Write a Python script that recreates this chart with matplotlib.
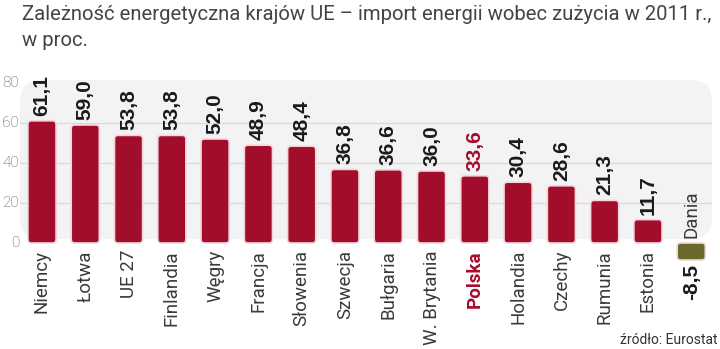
import matplotlib.pyplot as plt
from matplotlib.patches import FancyBboxPatch

kraje = ['Niemcy', 'Łotwa', 'UE 27', 'Finlandia', 'Węgry', 'Francja', 'Słowenia',
         'Szwecja', 'Bułgaria', 'W. Brytania', 'Polska', 'Holandia', 'Czechy',
         'Rumunia', 'Estonia', 'Dania']
import_energii = [61.1, 59.0, 53.8, 53.8, 52.0, 48.9, 48.4, 36.8, 36.6, 36.0,
                  33.6, 30.4, 28.6, 21.3, 11.7, -8.5]
y_ticks = [0, 20, 40, 60, 80]

RED = '#a30d2c'
OLIVE = '#6b682c'
GRAY = '#3a3a3a'

fig = plt.figure(figsize=(7.2, 3.49), dpi=100)
ax = fig.add_axes([20 / 720, 84 / 349, 692 / 720, 185 / 349])
x0, x1 = -0.508, 15.48
y0, y1 = -11, 81.5
ax.set_xlim(x0, x1)
ax.set_ylim(y0, y1)
ax.axis('off')
# data units per pixel, so rounded corners stay round
aspect = ((y1 - y0) / 185) / ((x1 - x0) / 692)

# rounded grey panel behind the bars
panel = FancyBboxPatch((0, 0.14), 1, 0.86, transform=ax.transAxes,
                       boxstyle='round,pad=0,rounding_size=0.03',
                       mutation_aspect=692 / 185,
                       facecolor='#f3f3f3', edgecolor='none', zorder=0)
ax.add_patch(panel)
for t in y_ticks[1:-1]:
    ax.plot([x0, x1], [t, t], color='#dadada', lw=0.9, zorder=1)

for t in y_ticks:
    ax.text(-0.53, t, str(t), ha='right', va='center', fontsize=11,
            color='#555555', family='Roboto', fontweight='light', clip_on=False)

w = 0.65
for i, (k, v) in enumerate(zip(kraje, import_energii)):
    col = OLIVE if v < 0 else RED
    bar = FancyBboxPatch((i - w / 2, min(0, v)), w, abs(v),
                         boxstyle='round,pad=0,rounding_size=0.08',
                         mutation_aspect=aspect,
                         facecolor=col, edgecolor='#f2d6da', lw=1.2, zorder=2)
    ax.add_patch(bar)
    label = f'{v:.1f}'.replace('.', ',')
    if v >= 0:
        ax.text(i, v + 2.5, label, rotation=90, ha='center', va='bottom',
                fontsize=15, fontweight='bold', family='Liberation Sans',
                color=RED if k == 'Polska' else '#1a1a1a', zorder=3)
        ax.text(i, -3.5, k, rotation=90, ha='center', va='top', fontsize=13.5,
                family='Roboto', fontweight='bold' if k == 'Polska' else 'normal',
                color=RED if k == 'Polska' else GRAY, clip_on=False)
    else:
        ax.text(i, 2.5, k, rotation=90, ha='center', va='bottom', fontsize=13.5,
                family='Roboto', color=GRAY)
        ax.text(i, v - 2.0, label, rotation=90, ha='center', va='top',
                fontsize=15, fontweight='bold', family='Liberation Sans',
                color='#1a1a1a', clip_on=False)

fig.text(22 / 720, 1 - 20 / 349,
         'Zależność energetyczna krajów UE – import energii wobec zużycia w 2011 r.,',
         fontsize=14.6, family='Roboto', color='#444444')
fig.text(22 / 720, 1 - 46 / 349, 'w proc.', fontsize=14.6, family='Roboto',
         color='#444444')
fig.text(718 / 720, 1 - 344 / 349, 'źródło: Eurostat', ha='right', fontsize=10,
         family='Roboto', color='#333333')

fig.savefig('out.png', dpi=100)
